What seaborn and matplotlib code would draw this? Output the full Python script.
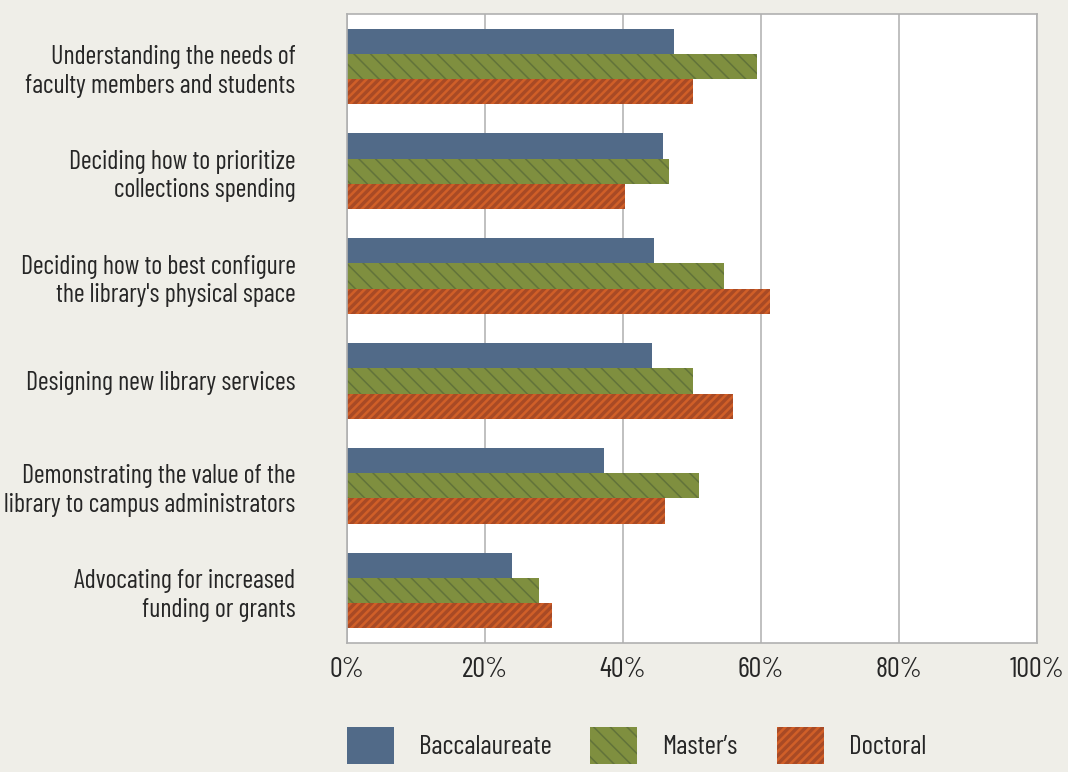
import pandas as pd
import numpy as np
import matplotlib
matplotlib.use("Agg")
import matplotlib.pyplot as plt
import seaborn as sns
from matplotlib.patches import Patch
from matplotlib import font_manager as fm

# data (percent)
activities = ["Understanding the needs of\nfaculty members and students",
              "Deciding how to prioritize\ncollections spending",
              "Deciding how to best configure\nthe library's physical space",
              "Designing new library services",
              "Demonstrating the value of the\nlibrary to campus administrators",
              "Advocating for increased\nfunding or grants"]
groups = ["Baccalaureate", "Master\u2019s", "Doctoral"]
baccalaureate = [47.4, 45.8, 44.5, 44.2, 37.2, 23.9]
masters = [59.4, 46.7, 54.6, 50.1, 51.0, 27.8]
doctoral = [50.1, 40.3, 61.3, 55.9, 46.1, 29.7]

df = pd.DataFrame({"activity": activities * 3,
                   "group": np.repeat(groups, len(activities)),
                   "value": baccalaureate + masters + doctoral})

face = ["#516A88", "#7F8F3F", "#D05F28"]
hatch_col = ["#516A88", "#62733A", "#A84A25"]
hatches = ["", "\\\\", "////"]
hatch_lw = [1.0, 1.1, 2.4]

# pick a condensed font
font = "DejaVu Sans"
for cand in ["Barlow Condensed", "Roboto Condensed", "Archivo Narrow", "Liberation Sans Narrow"]:
    try:
        fm.findfont(fm.FontProperties(family=cand), fallback_to_default=False)
        font = cand
        break
    except Exception:
        pass

sns.set_style("white")
plt.rcParams['font.family'] = [font, 'DejaVu Sans']
bg = "#EFEEE8"
txt_col = "#262626"


def with_hatch_lw(artist, lw):
    # hatch line width is a global rc setting, so wrap the draw call
    if hasattr(artist, "set_hatch_linewidth"):
        artist.set_hatch_linewidth(lw)
    orig = artist.draw

    def draw(renderer):
        with plt.rc_context({"hatch.linewidth": lw}):
            orig(renderer)
    artist.draw = draw


fig = plt.figure(figsize=(10.68, 7.72), dpi=100, facecolor=bg)
ax = fig.add_axes([0.3249, 0.167, 0.646, 0.815])
ax.set_facecolor("white")

sns.barplot(data=df, y="activity", x="value", hue="group", orient="h",
            palette=face, width=0.72, saturation=1, legend=False, ax=ax)

# hatching per series
for i, cont in enumerate(ax.containers):
    for bar in cont:
        bar.set_facecolor(face[i])
        bar.set_edgecolor(hatch_col[i])
        bar.set_linewidth(0)
        bar.set_hatch(hatches[i])
        with_hatch_lw(bar, hatch_lw[i])

ax.set_xlim(0, 100)
ax.set_xticks(range(0, 101, 20))
ax.set_xticklabels([f"{t}%" for t in range(0, 101, 20)], fontsize=20.5, color=txt_col)
ax.tick_params(axis="y", labelsize=18.8, labelcolor=txt_col, length=0, pad=37)
ax.tick_params(axis="x", length=0, pad=10)
for lab in ax.get_yticklabels():
    lab.set_horizontalalignment("right")
    lab.set_multialignment("right")
    lab.set_linespacing(1.25)
ax.set_xlabel("")
ax.set_ylabel("")
ax.xaxis.grid(True, color="#B5B5B5", linewidth=1.2)
ax.set_axisbelow(True)
for s in ax.spines.values():
    s.set_visible(True)
    s.set_color("#B0B0B0")
    s.set_linewidth(1.2)

# legend: one entry per box, placed under the plot
leg_x = [347, 590, 777]
for i in range(3):
    h = Patch(facecolor=face[i], edgecolor=hatch_col[i], hatch=hatches[i], linewidth=0)
    leg = fig.legend([h], [groups[i]], loc="upper left",
                     bbox_to_anchor=(leg_x[i] / 1068, 1 - 727 / 772),
                     frameon=False, fontsize=19.5, handlelength=1.75, handleheight=1.75,
                     handletextpad=0.9, borderpad=0, borderaxespad=0)
    for p in leg.get_patches():
        with_hatch_lw(p, hatch_lw[i])
    for t in leg.get_texts():
        t.set_color(txt_col)

fig.savefig("out.png", dpi=100, facecolor=bg)
